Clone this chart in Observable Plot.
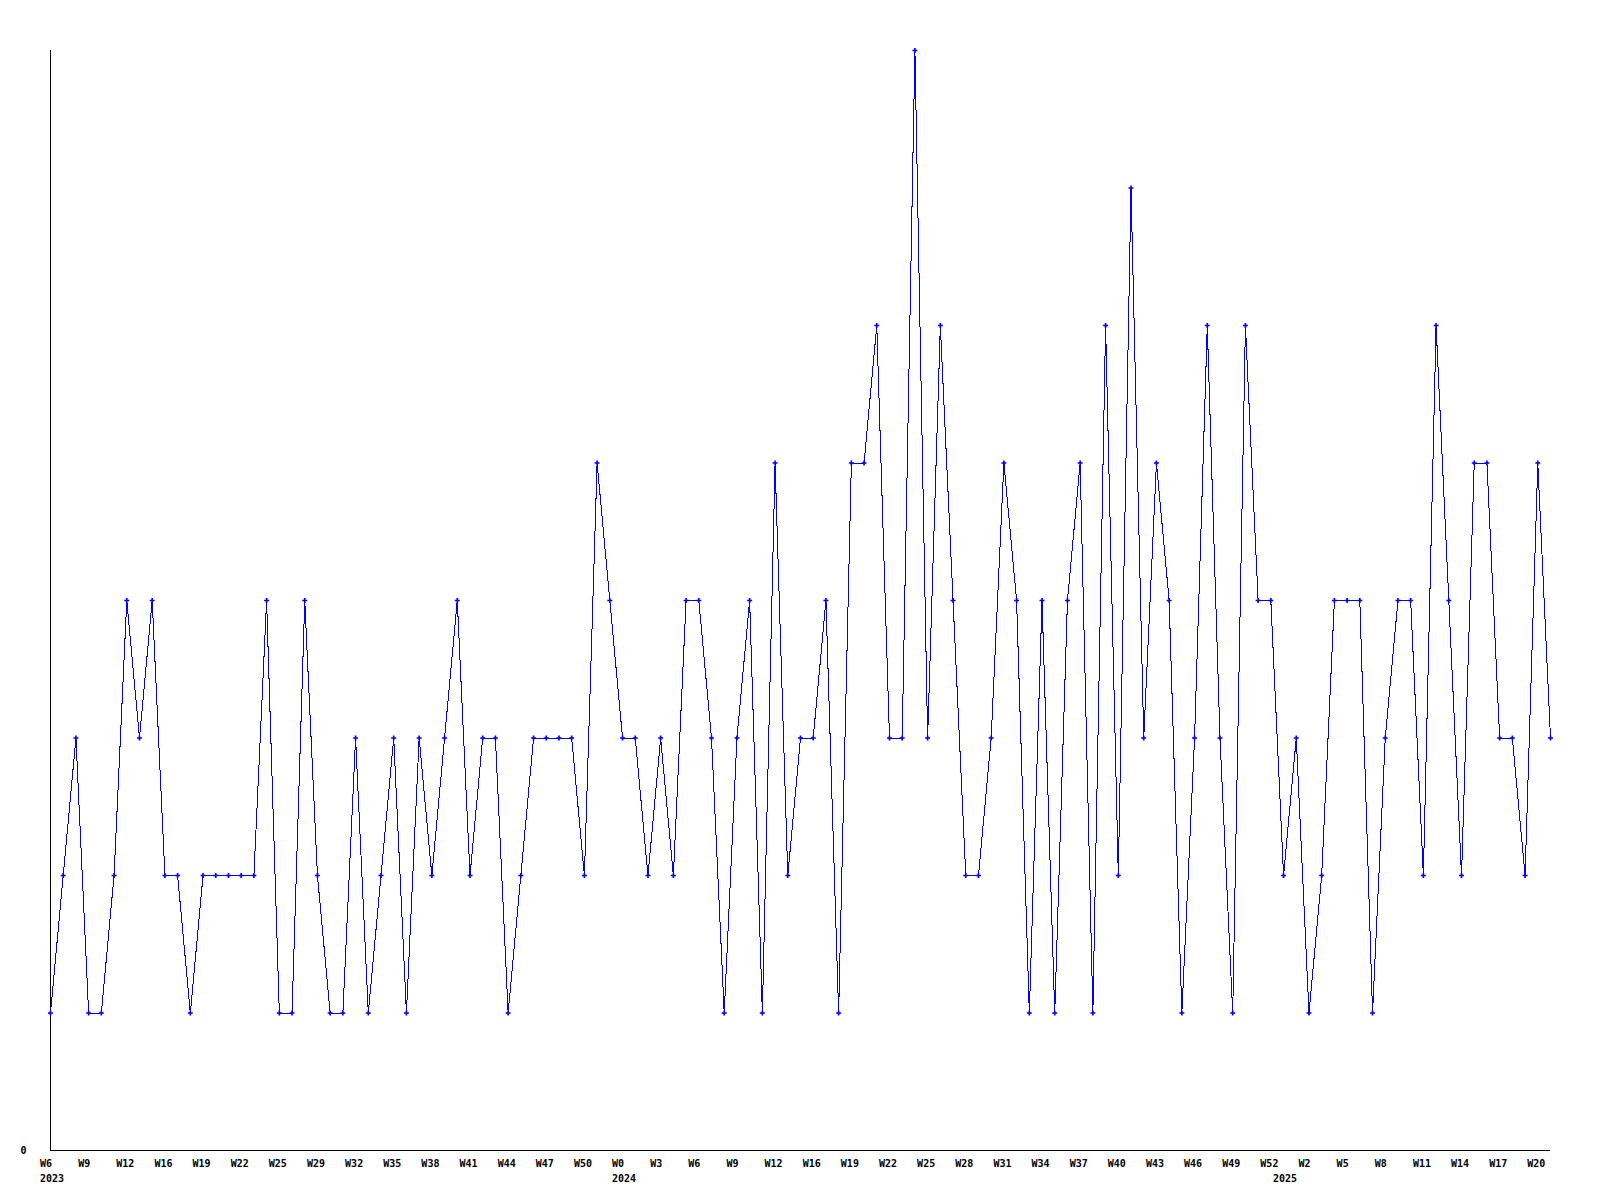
<!DOCTYPE html>
<html>
<head>
<meta charset="utf-8">
<script src="https://cdn.jsdelivr.net/npm/d3@7"></script>
<script src="https://cdn.jsdelivr.net/npm/@observablehq/plot@0.6"></script>
<style>
  html, body { margin: 0; padding: 0; background: #ffffff; }
  #chart svg { display: block; }
</style>
</head>
<body>
<div id="chart"></div>
<script>
// Weekly counts, one value per period (119 periods)
const counts = [
  1,2,3,1,1,2,4,3,4,2,
  2,1,2,2,2,2,2,4,1,1,
  4,2,1,1,3,1,2,3,1,3,
  2,3,4,2,3,3,1,2,
  3,3,3,3,2,5,4,3,3,2,
  3,2,4,4,3,1,3,4,1,5,
  2,3,3,4,1,5,5,6,3,3,
  8,3,6,4,2,2,3,5,4,1,
  4,1,4,5,1,6,2,7,3,5,
  4,1,3,6,3,1,6,4,4,2,
  3,1,2,4,4,4,1,3,4,4,
  2,6,4,2,5,5,3,3,2,5,3
];

// Week tick labels (every third period)
const weekLabels = [
  "W6","W9","W12","W16","W19","W22","W25","W29","W32","W35","W38","W41","W44","W47","W50",
  "W0","W3","W6","W9","W12","W16","W19","W22","W25","W28","W31","W34","W37","W40","W43","W46","W49","W52",
  "W2","W5","W8","W11","W14","W17","W20"
];
const weekTickPeriods = weekLabels.map((_, i) => i * 3);

// Year labels and the period where each year starts
const years = ["2023", "2024", "2025"];
const yearStartPeriods = [0, 45, 97];

const data = counts.map((v, i) => ({period: i, count: v}));
const yearData = years.map((y, i) => ({period: yearStartPeriods[i], year: y}));
const tickLabelOf = new Map(weekTickPeriods.map((p, i) => [p, weekLabels[i]]));

const font = "'DejaVu Sans Mono', monospace";

const chart = Plot.plot({
  width: 1600,
  height: 1200,
  marginLeft: 50,
  marginRight: 50,
  marginTop: 50,
  marginBottom: 50,
  style: {fontFamily: font, fontSize: "10px", fontWeight: "bold", background: "#ffffff", color: "#000000"},
  x: {domain: [0, counts.length - 1], axis: null, label: null},
  y: {domain: [0, 8], axis: null, label: null},
  marks: [
    Plot.axisX({
      ticks: weekTickPeriods,
      tickFormat: d => tickLabelOf.get(d),
      tickSize: 0,
      tickPadding: 9,
      textAnchor: "start",
      dx: -10.5,
      label: null,
      fontWeight: "bold",
      fill: "#000000",
      style: {letterSpacing: "1px"}
    }),
    Plot.axisY({
      ticks: [0],
      tickFormat: d => String(d),
      tickSize: 0,
      tickPadding: 24,
      label: null,
      fontWeight: "bold",
      fill: "#000000"
    }),
    Plot.text(yearData, {
      x: "period",
      text: "year",
      frameAnchor: "bottom",
      lineAnchor: "top",
      textAnchor: "start",
      dx: -10.5,
      dy: 24,
      fill: "#000000",
      fontWeight: "bold",
      style: {letterSpacing: "1px"}
    }),
    Plot.ruleY([0], {stroke: "#000000", strokeWidth: 1}),
    Plot.ruleX([0], {stroke: "#000000", strokeWidth: 1}),
    Plot.line(data, {x: "period", y: "count", stroke: "#0000ff", strokeWidth: 1, shapeRendering: "crispEdges"}),
    Plot.dot(data, {x: "period", y: "count", symbol: "cross", r: 2.1, fill: "#0000ff", stroke: "none"})
  ]
});

document.getElementById("chart").appendChild(chart);
</script>
</body>
</html>
